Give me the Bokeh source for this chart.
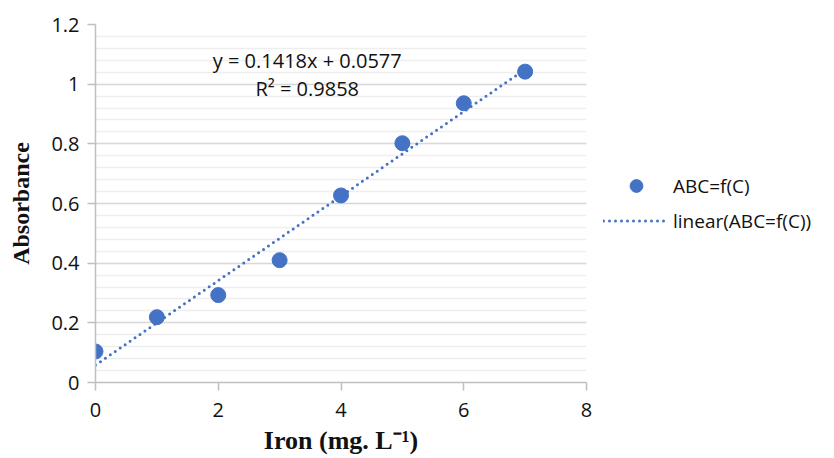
import numpy as np
from bokeh.plotting import figure
from bokeh.models import FixedTicker, Legend, LegendItem
from bokeh.core.properties import value
from bokeh.embed import file_html
from bokeh.resources import INLINE

iron = [0, 1, 2, 3, 4, 5, 6, 7]
absorbance = [0.104, 0.219, 0.293, 0.410, 0.627, 0.802, 0.936, 1.042]
x_ticks = [0, 2, 4, 6, 8]
y_ticks = [0, 0.2, 0.4, 0.6, 0.8, 1.0, 1.2]
y_tick_labels = ["0", "0.2", "0.4", "0.6", "0.8", "1", "1.2"]
y_minor = [round(i * 0.04, 2) for i in range(31)]
eq_text = "y = 0.1418x + 0.0577"
r2_text = "R² = 0.9858"
series_name = "ABC=f(C)"
trend_name = "linear(ABC=f(C))"

BLUE = "#4472C4"
TICK_FONT = "Open Sans"

p = figure(frame_width=491, frame_height=358, x_range=(0, 8), y_range=(0, 1.2),
           output_backend="svg", toolbar_location=None,
           min_border_left=95, min_border_right=0, min_border_top=24, min_border_bottom=74)
p.outline_line_color = None
p.background_fill_color = "white"

# grids
p.xgrid.grid_line_color = None
p.ygrid.ticker = FixedTicker(ticks=y_ticks, minor_ticks=y_minor)
p.ygrid.grid_line_color = "#d9d9d9"
p.ygrid.grid_line_width = 1.3
p.ygrid.minor_grid_line_color = "#eeeeee"
p.ygrid.minor_grid_line_width = 1.3

# axes
for ax in (p.xaxis[0], p.yaxis[0]):
    ax.axis_line_color = "#bfbfbf"
    ax.axis_line_width = 1.5
    ax.major_tick_line_color = "#bfbfbf"
    ax.major_tick_line_width = 1.5
    ax.major_tick_in = 0
    ax.major_tick_out = 8
    ax.minor_tick_line_color = None
    ax.major_label_text_font = TICK_FONT
    ax.major_label_text_font_size = "20px"
    ax.major_label_text_color = "#111111"
    ax.axis_label_text_font = "Liberation Serif"
    ax.axis_label_text_font_style = "bold"
    ax.axis_label_text_color = "#111111"

p.xaxis.axis_label_text_font_size = "26px"
p.yaxis.axis_label_text_font_size = "24px"
p.xaxis.ticker = FixedTicker(ticks=x_ticks)
p.yaxis.ticker = FixedTicker(ticks=y_ticks)
p.yaxis.major_label_overrides = {t: l for t, l in zip(y_ticks, y_tick_labels)}
p.xaxis.major_label_standoff = 12
p.yaxis.major_label_standoff = 8
p.xaxis.axis_label = "Iron (mg. L⁻¹)"
p.yaxis.axis_label = "Absorbance"
p.xaxis.axis_label_standoff = 6
p.yaxis.axis_label_standoff = 14

# trend line from least-squares fit
slope, intercept = np.polyfit(iron, absorbance, 1)
fx = [min(iron), max(iron)]
fy = [slope * v + intercept for v in fx]
trend = p.line(fx, fy, line_color=BLUE, line_width=3, line_dash="0 6", line_cap="round")

pts = p.scatter(iron, absorbance, size=15, fill_color=BLUE, line_color=BLUE)

p.text(x=[3.45], y=[1.08], text=[eq_text], text_align="center", text_baseline="middle",
       text_font=value(TICK_FONT), text_font_size="20px", text_color="#111111")
p.text(x=[3.45], y=[0.987], text=[r2_text], text_align="center", text_baseline="middle",
       text_font=value(TICK_FONT), text_font_size="20px", text_color="#111111")

legend = Legend(items=[LegendItem(label=series_name, renderers=[pts]),
                       LegendItem(label=trend_name, renderers=[trend])],
                location="center_left", orientation="vertical")
legend.border_line_color = None
legend.background_fill_alpha = 0
legend.label_text_font = TICK_FONT
legend.label_text_font_size = "19px"
legend.label_text_color = "#111111"
legend.glyph_width = 66
legend.glyph_height = 32
legend.label_height = 32
legend.label_standoff = 4
legend.spacing = 3
legend.padding = 0
legend.margin = 17
p.add_layout(legend, "right")

open("out.html", "w").write(file_html(p, INLINE))
